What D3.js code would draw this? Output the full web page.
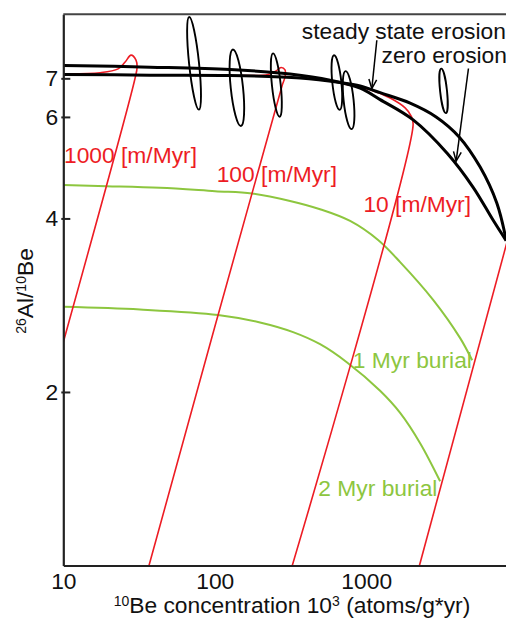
<!DOCTYPE html>
<html>
<head>
<meta charset="utf-8">
<script src="https://cdn.jsdelivr.net/npm/d3@7"></script>
<style>
  body { margin: 0; background: #fff; }
  svg { display: block; font-family: "Liberation Sans", Arial, sans-serif; }
</style>
</head>
<body>
<svg id="chart" width="506" height="619"></svg>
<script>
// axis ticks
const xTicks = [10, 100, 1000];
const yTicks = [2, 4, 6, 7];

// black reference curves, [10Be conc (10^3 atoms/g), 26Al/10Be]
const curveUpper = [[10, 7.37], [37.4, 7.32], [126, 7.25], [314, 7.12], [577, 6.95], [912, 6.73],
                    [1236, 6.43], [2042, 5.93], [3423, 5.19], [5082, 4.53], [6893, 3.97], [8395, 3.66]];
const curveLower = [[10, 7.11], [37.4, 7.09], [126, 7.08], [366, 7.01], [671, 6.885], [912, 6.79],
                    [1236, 6.61], [1950, 6.34], [2895, 6.00], [4108, 5.54], [5654, 4.91], [7290, 4.25], [8395, 3.67]];

// red erosion-rate lines
const erosion1000 = [[10, 7.13], [17.5, 7.16], [23, 7.27], [25.6, 7.47], [28, 7.68], [30.2, 7.53],
                     [30.7, 7.32], [29.8, 7.01], [10, 2.44]];
const erosion100 = [[147, 7.08], [225, 7.11], [254, 7.21], [274, 7.31], [291, 7.24], [291, 7.04],
                    [278, 6.79], [36.8, 1.0]];
const erosion10 = [[726, 6.84], [1061, 6.69], [1439, 6.47], [1807, 6.22], [1980, 6.02], [2041, 5.83], [325, 1.0]];
const erosion1 = [[8650, 3.70], [2246, 1.0]];

// green burial curves
const burial1 = [[10, 4.57], [19.4, 4.55], [43.5, 4.52], [100.5, 4.46], [176, 4.42], [314, 4.29], [496, 4.15],
                 [783, 3.96], [1198, 3.67], [1675, 3.36], [2766, 2.89], [4172, 2.48], [5006, 2.27]];
const burial2 = [[10, 2.81], [32.1, 2.78], [105, 2.72], [199, 2.64], [329, 2.54], [496, 2.42], [748, 2.25],
                 [1235, 2.01], [1675, 1.84], [2270, 1.63], [3076, 1.40]];

// samples (error ellipses)
const sampleConc = [73, 140, 255, 640, 765, 3240];
const sampleConcErr = [5.5, 13, 17, 44, 58, 170];
const sampleRatioLo = [6.17, 5.78, 6.00, 6.17, 5.71, 6.09];
const sampleRatioHi = [8.95, 7.86, 7.74, 7.68, 7.21, 7.28];

// labels and arrows
const erosionLabels = ["1000 [m/Myr]", "100 [m/Myr]", "10 [m/Myr]"];
const erosionLabelAt = [[10.1, 5.0], [103, 4.63], [958, 4.11]];
const burialLabels = ["1 Myr burial", "2 Myr burial"];
const burialLabelAt = [[816, 2.20], [483, 1.32]];
const curveLabels = ["steady state erosion", "zero erosion"];
const curveLabelAt = [[376, 8.18], [1262, 7.45]];
const arrowTails = [[1175, 8.15], [4732, 7.28]];
const arrowTips = [[1089, 6.72], [3925, 5.03]];

const RED = "#ed1c24";
const GREEN = "#8dc63f";
const FONT_SIZE = "22.8px";
const plotLeft = 63.3, plotTop = 14.3, plotRight = 506.2, plotBottom = 565.5;

const svg = d3.select("#chart");

const x = d3.scaleLog().domain([10, 8400]).range([plotLeft, plotRight]);
const y = d3.scaleLog().domain([1, 9.04]).range([plotBottom, plotTop]);

svg.append("defs").append("clipPath")
   .attr("id", "plot-clip")
   .append("rect")
   .attr("x", plotLeft).attr("y", plotTop)
   .attr("width", plotRight - plotLeft).attr("height", plotBottom - plotTop);

const plot = svg.append("g").attr("clip-path", "url(#plot-clip)");

const line = d3.line()
               .x((d) => x(d[0]))
               .y((d) => y(d[1]))
               .curve(d3.curveCatmullRom.alpha(0.5));

// green burial curves
plot.selectAll("path.burial")
    .data([burial1, burial2])
    .join("path")
    .attr("class", "burial")
    .attr("d", line)
    .style("fill", "none")
    .style("stroke", GREEN)
    .style("stroke-width", 2);

// red erosion lines
plot.selectAll("path.erosion")
    .data([erosion1000, erosion100, erosion10, erosion1])
    .join("path")
    .attr("class", "erosion")
    .attr("d", line)
    .style("fill", "none")
    .style("stroke", RED)
    .style("stroke-width", 1.6);

// black curves
plot.selectAll("path.ref")
    .data([curveUpper, curveLower])
    .join("path")
    .attr("class", "ref")
    .attr("d", line)
    .style("fill", "none")
    .style("stroke", "#000")
    .style("stroke-width", 3);

// sample ellipses
plot.selectAll("ellipse")
    .data(sampleConc)
    .join("ellipse")
    .attr("transform", (d, i) => {
        const cx = x(d);
        const cy = (y(sampleRatioLo[i]) + y(sampleRatioHi[i])) / 2;
        return "translate(" + cx + "," + cy + ") rotate(-6)";
    })
    .attr("rx", (d, i) => (x(d + sampleConcErr[i]) - x(d - sampleConcErr[i])) / 2)
    .attr("ry", (d, i) => (y(sampleRatioLo[i]) - y(sampleRatioHi[i])) / 2)
    .style("fill", "none")
    .style("stroke", "#000")
    .style("stroke-width", 1.9);

// arrows
const arrows = svg.append("g").attr("class", "arrows");
arrowTails.forEach((t, i) => {
    const x1 = x(t[0]), y1 = y(t[1]);
    const x2 = x(arrowTips[i][0]), y2 = y(arrowTips[i][1]);
    const ang = Math.atan2(y2 - y1, x2 - x1);
    const len = 10, spread = 0.4;
    const headPath = "M" + (x2 - len * Math.cos(ang - spread)) + "," + (y2 - len * Math.sin(ang - spread)) +
                     "L" + x2 + "," + y2 +
                     "L" + (x2 - len * Math.cos(ang + spread)) + "," + (y2 - len * Math.sin(ang + spread));
    arrows.append("line")
          .attr("x1", x1).attr("y1", y1).attr("x2", x2).attr("y2", y2)
          .style("stroke", "#000").style("stroke-width", 1.5);
    arrows.append("path")
          .attr("d", headPath)
          .style("fill", "none").style("stroke", "#000").style("stroke-width", 1.5);
});

// labels
function addLabels(texts, where, color) {
    svg.append("g")
       .selectAll("text")
       .data(texts)
       .join("text")
       .attr("x", (d, i) => x(where[i][0]))
       .attr("y", (d, i) => y(where[i][1]))
       .style("font-size", FONT_SIZE)
       .style("fill", color)
       .text((d) => d);
}
addLabels(erosionLabels, erosionLabelAt, RED);
addLabels(burialLabels, burialLabelAt, GREEN);
addLabels(curveLabels, curveLabelAt, "#111");

// axes
const xAxis = svg.append("g")
                 .attr("transform", "translate(0," + plotBottom + ")")
                 .call(d3.axisBottom(x)
                         .tickValues(xTicks)
                         .tickFormat(d3.format("d"))
                         .tickSizeInner(0)
                         .tickSizeOuter(0)
                         .tickPadding(7));
const yAxis = svg.append("g")
                 .attr("transform", "translate(" + plotLeft + ",0)")
                 .call(d3.axisLeft(y)
                         .tickValues(yTicks)
                         .tickFormat(d3.format("d"))
                         .tickSizeInner(-7)
                         .tickSizeOuter(0)
                         .tickPadding(5));
[xAxis, yAxis].forEach((a) => {
    a.select(".domain").style("stroke", "#222").style("stroke-width", 2.2);
    a.selectAll(".tick line").style("stroke", "#222").style("stroke-width", 2);
    a.selectAll(".tick text")
     .style("font-family", "\"Liberation Sans\", Arial, sans-serif")
     .style("font-size", FONT_SIZE)
     .style("fill", "#111");
});
yAxis.selectAll(".tick line").attr("x1", -2);

// top frame line
svg.append("line")
   .attr("x1", plotLeft).attr("x2", plotRight)
   .attr("y1", plotTop).attr("y2", plotTop)
   .style("stroke", "#444").style("stroke-width", 2);

// axis titles
const xTitle = svg.append("text")
                  .attr("x", 292)
                  .attr("y", 613)
                  .attr("text-anchor", "middle")
                  .style("font-size", FONT_SIZE)
                  .style("fill", "#111");
xTitle.append("tspan").attr("dy", -7).style("font-size", "14px").text("10");
xTitle.append("tspan").attr("dy", 7).text("Be concentration 10");
xTitle.append("tspan").attr("dy", -7).style("font-size", "14px").text("3");
xTitle.append("tspan").attr("dy", 7).text(" (atoms/g*yr)");

const yTitle = svg.append("text")
                  .attr("transform", "translate(33," + 291 + ") rotate(-90)")
                  .attr("text-anchor", "middle")
                  .style("font-size", FONT_SIZE)
                  .style("fill", "#111");
yTitle.append("tspan").attr("dy", -7).style("font-size", "14px").text("26");
yTitle.append("tspan").attr("dy", 7).text("Al/");
yTitle.append("tspan").attr("dy", -7).style("font-size", "14px").text("10");
yTitle.append("tspan").attr("dy", 7).text("Be");
</script>
</body>
</html>
